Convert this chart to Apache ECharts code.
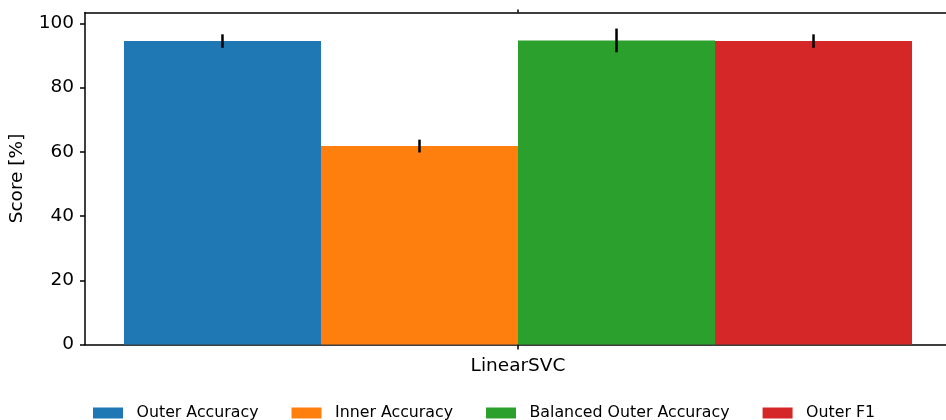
<!DOCTYPE html>
<html>
<head>
<meta charset="utf-8">
<script src="https://cdn.jsdelivr.net/npm/echarts@6/dist/echarts.min.js"></script>
<style>
html, body { margin: 0; padding: 0; background: #fff; overflow: hidden; }
#main { width: 951px; height: 420px; }
</style>
</head>
<body>
<div id="main"></div>
<script>
var categories = ['LinearSVC'];
var seriesNames = ['Outer Accuracy', 'Inner Accuracy', 'Balanced Outer Accuracy', 'Outer F1'];
var means = [94.5, 61.8, 94.7, 94.5];
var errors = [2.1, 2.0, 3.7, 2.1];
var yTicks = [0, 20, 40, 60, 80, 100];
var myColor = ['#1f77b4', '#ff7f0e', '#2ca02c', '#d62728'];

var barFrac = 0.2275;
var font = 'DejaVu Sans';

var myChart = echarts.init(document.getElementById('main'));

var barSeries = seriesNames.map(function (name, i) {
    return {
        name: name,
        type: 'bar',
        data: [means[i]],
        barWidth: (barFrac * 100) + '%',
        barGap: '0%',
        itemStyle: { color: myColor[i] },
        silent: true
    };
});

var errData = means.map(function (m, i) {
    return [i, m - errors[i], m + errors[i]];
});

// error bars, offset to sit on the middle of each bar
var errSeries = {
    type: 'custom',
    silent: true,
    z: 10,
    data: errData,
    encode: { x: -1, y: [1, 2] },
    renderItem: function (params, api) {
        var idx = api.value(0);
        var lo = api.coord([0, api.value(1)]);
        var hi = api.coord([0, api.value(2)]);
        var band = api.size([1, 0])[0];
        var w = band * barFrac;
        var x = lo[0] + (idx - (seriesNames.length - 1) / 2) * w;
        return {
            type: 'line',
            shape: { x1: x, y1: lo[1], x2: x, y2: hi[1] },
            style: { stroke: '#000', lineWidth: 2.5 }
        };
    }
};

myChart.setOption({
    animation: false,
    color: myColor,
    grid: { left: 83, right: 0, top: 12.5, bottom: 75.5 },
    legend: {
        data: seriesNames,
        left: 88,
        top: 400,
        itemWidth: 30,
        itemHeight: 11,
        itemGap: 33,
        icon: 'rect',
        textStyle: { fontFamily: font, fontSize: 15.8, color: '#000', padding: [0, 0, 0, 8.5] }
    },
    xAxis: [{
        type: 'category',
        data: categories,
        position: 'bottom',
        axisLine: { show: true, lineStyle: { color: '#000', width: 1.5 } },
        axisTick: { show: true, alignWithLabel: true, length: 5, lineStyle: { color: '#000', width: 1.5 } },
        axisLabel: { fontFamily: font, fontSize: 18.5, color: '#000', margin: 12 },
        splitLine: { show: false }
    }, {
        type: 'category',
        data: categories,
        position: 'top',
        axisLine: { show: true, lineStyle: { color: '#000', width: 1.5 } },
        axisTick: { show: true, alignWithLabel: true, length: 3, lineStyle: { color: '#000', width: 1.5 } },
        axisLabel: { show: false },
        splitLine: { show: false }
    }],
    yAxis: {
        type: 'value',
        min: 0,
        max: 103.4,
        interval: 20,
        name: 'Score [%]',
        nameLocation: 'middle',
        nameGap: 58,
        nameTextStyle: { fontFamily: font, fontSize: 18.5, color: '#000' },
        axisLine: { show: true, lineStyle: { color: '#000', width: 1.5 } },
        axisTick: { show: true, length: 5, lineStyle: { color: '#000', width: 1.5 } },
        axisLabel: {
            fontFamily: font, fontSize: 18.5, color: '#000', margin: 11,
            showMaxLabel: false,
            formatter: function (v) { return yTicks.indexOf(v) >= 0 ? String(v) : ''; }
        },
        splitLine: { show: false }
    },
    series: barSeries.concat([errSeries])
});
</script>
</body>
</html>
